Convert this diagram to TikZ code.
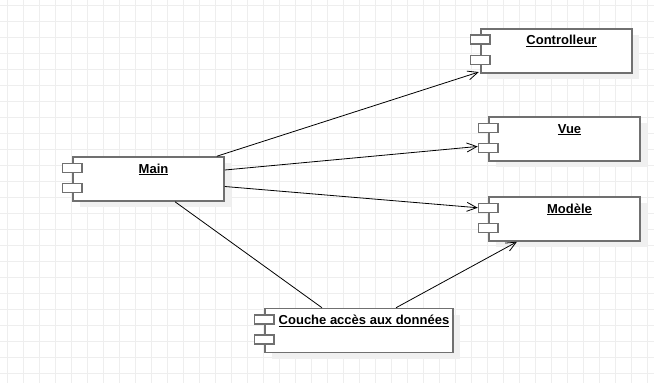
\documentclass[tikz,border=0pt]{standalone}
\usepackage{fontspec}
\setmainfont{Liberation Sans}
\usepackage{tikz}
\usetikzlibrary{positioning,shadows,arrows.meta}

\definecolor{boxgray}{RGB}{112,112,112}
\definecolor{gridgray}{RGB}{238,238,238}
\definecolor{shadowgray}{RGB}{240,240,240}

\begin{document}
\begin{tikzpicture}[x=1pt, y=-1pt,
    comp/.style={draw=boxgray, line width=1.5pt, fill=white, inner sep=0pt,
      minimum width=151pt, minimum height=44pt,
      general shadow={shadow xshift=7pt, shadow yshift=-6pt, fill=shadowgray, draw=none}},
    icon/.style={draw=boxgray, line width=1.5pt, fill=white, inner sep=0pt,
      minimum width=19.5pt, minimum height=9pt},
    title/.style={anchor=base, inner sep=0pt, font=\bfseries\fontsize{13pt}{15pt}\selectfont},
    dep/.style={draw, line width=0.8pt, -{Straight Barb[length=10pt,width=9pt]}},
    link/.style={draw, line width=0.8pt},
    gridline/.style={draw=gridgray, line width=1pt}]
    \useasboundingbox (0,0) rectangle (654,383);

    % background grid
    \foreach \gx in {7.3,23.3,...,647.3}
        \draw[gridline] (\gx,0) -- (\gx,383);
    \foreach \gy in {5,21,...,373}
        \draw[gridline] (0,\gy) -- (654,\gy);

    % components
    \node[comp] (main) at (148.5,179) {};
    \node[comp] (ctrl) at (556.5,50.8) {};
    \node[comp] (vue) at (564.5,139) {};
    \node[comp] (modele) at (564.5,219) {};
    \node[comp, minimum width=188pt] (couche) at (359,330.5) {};

    % titles and component icons
    \foreach \n/\t in {main/Main, ctrl/Controlleur, vue/Vue, modele/Modèle, couche/Couche accès aux données} {
        \node[title] (\n-t) at ([xshift=5pt,yshift=-16.8pt]\n.north) {\underline{\t}};
        \node[icon] (\n-a) at ([yshift=-11.5pt]\n.north west) {};
        \node[icon] (\n-b) at ([yshift=-31.7pt]\n.north west) {};
    }

    \draw[dep] ([xshift=-8pt]main.north east) -- ([xshift=-1.5pt,yshift=1.5pt]ctrl.south west);
    \draw[dep] ([yshift=9pt]main.east) -- ([yshift=1.5pt]vue-b.west);
    \draw[dep] ([yshift=-7.5pt]main.east) -- (modele-a.west);
    \draw[link] ([xshift=26.5pt]main.south) -- ([xshift=-37pt]couche.north);
    \draw[dep] ([xshift=37pt]couche.north) -- ([xshift=-47.5pt]modele.south);
\end{tikzpicture}
\end{document}
